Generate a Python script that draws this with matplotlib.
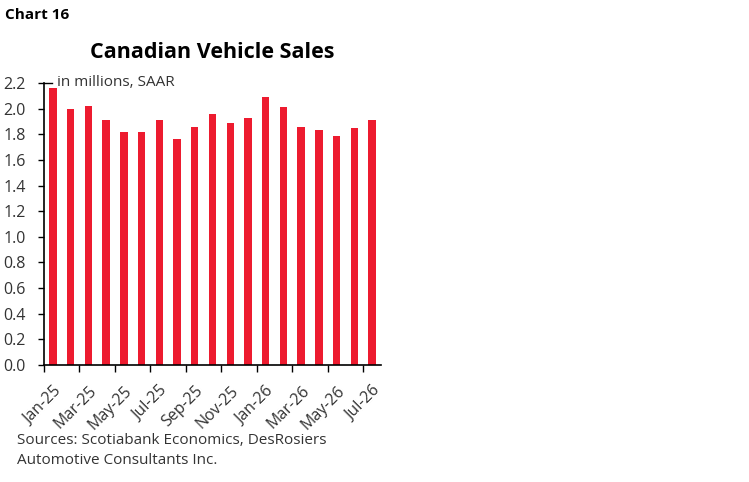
import numpy as np
import matplotlib.pyplot as plt

# monthly data, Jan-25 to Jul-26
months = ["Jan-25", "Feb-25", "Mar-25", "Apr-25", "May-25", "Jun-25", "Jul-25",
          "Aug-25", "Sep-25", "Oct-25", "Nov-25", "Dec-25", "Jan-26", "Feb-26",
          "Mar-26", "Apr-26", "May-26", "Jun-26", "Jul-26"]
sales = [2.16, 2.00, 2.02, 1.91, 1.82, 1.82, 1.91, 1.76, 1.86, 1.96,
         1.89, 1.93, 2.09, 2.01, 1.86, 1.83, 1.79, 1.85, 1.91]
yticks = [0.0, 0.2, 0.4, 0.6, 0.8, 1.0, 1.2, 1.4, 1.6, 1.8, 2.0, 2.2]

plt.rcParams['font.family'] = ['Open Sans', 'DejaVu Sans']

fig = plt.figure(figsize=(7.49, 4.82), dpi=100)
ax = fig.add_axes([44 / 749, (482 - 365) / 482, (381 - 44) / 749, (365 - 83) / 482])

x = np.arange(len(months))
ax.bar(x, sales, width=0.42, color="#ED1B2F")

ax.set_xlim(-0.5, len(months) - 0.5)
ax.set_ylim(0, 2.2)
ax.set_yticks(yticks)
ax.set_yticklabels([f"{v:.1f}" for v in yticks], fontsize=11.5, color="#333333")
ax.tick_params(axis='y', direction='out', length=4, width=1, pad=9)

# labels every second month, ticks on category boundaries
ax.set_xticks(x[::2])
ax.set_xticklabels(months[::2], rotation=45, ha='right', rotation_mode='anchor',
                   fontsize=11.5, color="#333333")
ax.tick_params(axis='x', length=0, pad=13)
ax.set_xticks(np.arange(-0.5, len(months), 2), minor=True)
ax.tick_params(axis='x', which='minor', direction='out', length=5, width=1)

for s in ["top", "right"]:
    ax.spines[s].set_visible(False)
ax.spines["left"].set_linewidth(1.2)
ax.spines["bottom"].set_linewidth(1.2)

# small cap at the top of the y axis
ax.plot([-0.5, -0.05], [2.2, 2.2], color="black", lw=1, clip_on=False)

ax.text(0.038, 1.0, "in millions, SAAR", transform=ax.transAxes, fontsize=11,
        color="#333333", va='center')

fig.text(5 / 749, 1 - 15 / 482, "Chart 16", fontsize=11, fontweight='bold', va='center')
fig.text(212 / 749, 1 - 53 / 482, "Canadian Vehicle Sales", fontsize=15.5,
         fontweight='bold', ha='center', va='center')
fig.text(17 / 749, 1 - 440 / 482, "Sources: Scotiabank Economics, DesRosiers",
         fontsize=11, color="#333333", va='center')
fig.text(17 / 749, 1 - 460 / 482, "Automotive Consultants Inc.",
         fontsize=11, color="#333333", va='center')

fig.savefig("out.png", dpi=100)
